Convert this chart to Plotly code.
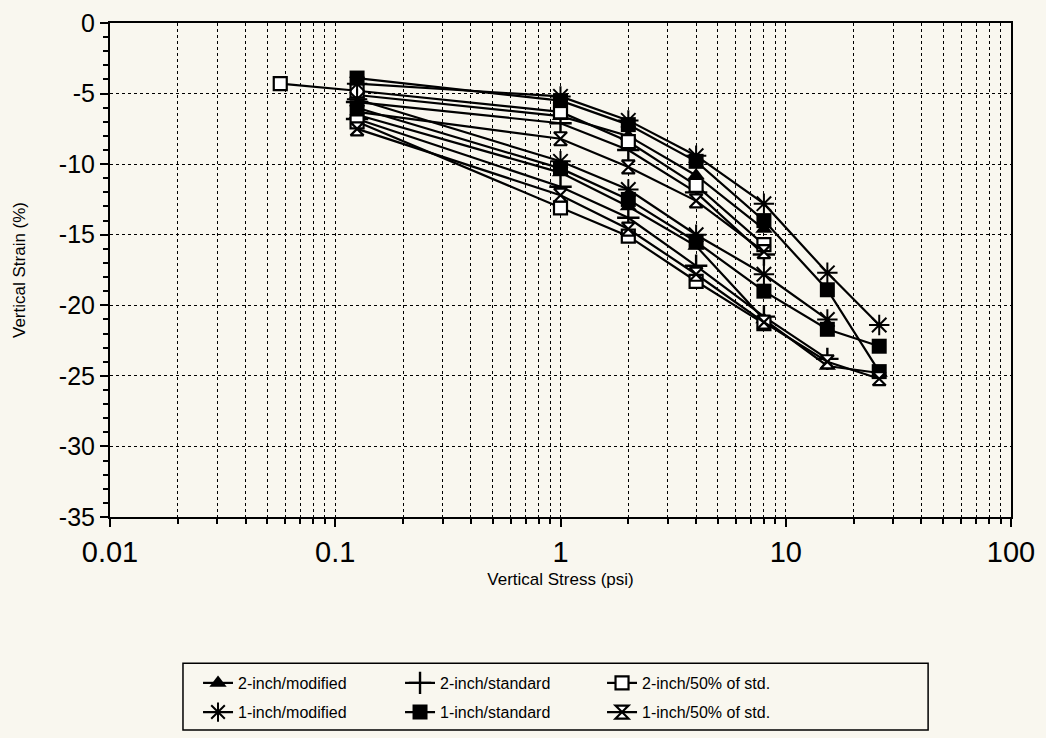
import plotly.graph_objects as go

# Applied vertical stress levels (psi)
stress = [0.125, 1, 2, 4, 8, 15.3, 26]
stress_50 = [0.057, 0.125, 1, 2, 4, 8]

# Test set 1 (upper curves), vertical strain (%)
set1 = {
    "2-inch/modified": (stress[:5], [-5.1, -6.6, -8.0, -10.8, -14.6]),
    "2-inch/standard": (stress[:5], [-5.6, -7.1, -9.0, -12.0, -16.4]),
    "2-inch/50% of std.": (stress_50, [-4.3, -4.8, -6.3, -8.4, -11.5, -15.7]),
    "1-inch/modified": (stress, [-4.3, -5.2, -6.9, -9.4, -12.8, -17.7, -21.4]),
    "1-inch/standard": (stress, [-3.9, -5.5, -7.2, -9.8, -14.0, -18.9, -24.7]),
    "1-inch/50% of std.": (stress[:5], [-6.3, -8.2, -10.2, -12.6, -16.2]),
}

# Test set 2 (lower curves), vertical strain (%)
set2 = {
    "2-inch/modified": (stress, [-6.5, -10.6, -13.0, -15.8, -21.0, -24.3, -24.8]),
    "2-inch/standard": (stress[:6], [-6.8, -11.6, -13.8, -17.2, -20.8, -23.8]),
    "2-inch/50% of std.": (stress[:5], [-7.0, -13.1, -15.1, -18.3, -21.3]),
    "1-inch/modified": (stress[:6], [-5.4, -9.8, -11.8, -15.0, -17.8, -21.0]),
    "1-inch/standard": (stress, [-6.0, -10.3, -12.5, -15.5, -19.0, -21.7, -22.9]),
    "1-inch/50% of std.": (stress, [-7.5, -12.2, -14.6, -17.8, -21.2, -24.0, -25.2]),
}

# Legend layout: 2-inch tests on the first row, 1-inch tests on the second
row_2inch = ["2-inch/modified", "2-inch/standard", "2-inch/50% of std."]
row_1inch = ["1-inch/modified", "1-inch/standard", "1-inch/50% of std."]

marker_style = {
    "2-inch/modified": dict(symbol="triangle-up", size=15, color="black"),
    "2-inch/standard": dict(symbol="cross-thin-open", size=16, color="black",
                            line=dict(width=2.4, color="black")),
    "2-inch/50% of std.": dict(symbol="square", size=13, color="white",
                               line=dict(width=2.2, color="black")),
    "1-inch/modified": dict(symbol="asterisk-open", size=17, color="black",
                            line=dict(width=2, color="black")),
    "1-inch/standard": dict(symbol="square", size=15, color="black"),
    "1-inch/50% of std.": dict(symbol="hourglass", size=13, color="white",
                               line=dict(width=2.2, color="black")),
}

x_major = [0.01, 0.1, 1, 10, 100]
x_major_text = ["0.01", "0.1", "1", "10", "100"]
x_minor = [m * 10 ** e for e in range(-2, 2) for m in range(2, 10)]
y_major = [0, -5, -10, -15, -20, -25, -30, -35]
y_major_text = ["0", "-5", "-10", "-15", "-20", "-25", "-30", "-35"]

bg = "rgb(249,247,239)"
font = "Liberation Sans, Arial, Helvetica, sans-serif"

fig = go.Figure()

for k, data in enumerate((set1, set2)):
    for row, legend_id in ((row_2inch, "legend"), (row_1inch, "legend2")):
        for name in row:
            xs, ys = data[name]
            fig.add_trace(go.Scatter(
                x=xs, y=ys, name=name, mode="lines+markers",
                legend=legend_id, showlegend=(k == 0),
                line=dict(color="black", width=2.2),
                marker=marker_style[name],
            ))

axis_common = dict(
    showline=True, linecolor="black", linewidth=2, mirror=True,
    ticks="outside", tickcolor="black", tickwidth=1.5,
    showgrid=True, gridcolor="black", gridwidth=1, griddash="dot",
    zeroline=False,
    title_font=dict(family=font, size=17, color="black"),
)

fig.update_xaxes(
    type="log", range=[-2, 2],
    tickmode="array", tickvals=x_major, ticktext=x_major_text, ticklen=8,
    tickfont=dict(family=font, size=29, color="black"),
    minor=dict(tickmode="array", tickvals=x_minor, ticks="outside", ticklen=5,
               tickcolor="black", showgrid=True, gridcolor="black",
               griddash="dot", gridwidth=1),
    title_text="Vertical Stress (psi)", title_standoff=6,
    **axis_common,
)
fig.update_yaxes(
    range=[-35, 0], tickmode="array", tickvals=y_major, ticktext=y_major_text,
    ticklen=8,
    tickfont=dict(family=font, size=25, color="black"),
    minor=dict(dtick=1, tick0=0, ticks="outside", ticklen=5, tickcolor="black",
               showgrid=False),
    title_text="Vertical Strain (%)", title_standoff=29,
    **axis_common,
)

legend_common = dict(
    orientation="h", x=0.0977, xanchor="left", yanchor="middle",
    entrywidth=157, entrywidthmode="pixels",
    bgcolor="rgba(0,0,0,0)", borderwidth=0,
    font=dict(family=font, size=16, color="black"),
    itemwidth=30,
)

fig.update_layout(
    width=1046, height=738,
    margin=dict(l=110, r=35, t=23, b=221, autoexpand=False),
    paper_bgcolor=bg, plot_bgcolor=bg,
    font=dict(family=font, color="black"),
    legend=dict(y=-0.336, **legend_common),
    legend2=dict(y=-0.395, **legend_common),
    shapes=[dict(type="rect", xref="paper", yref="paper",
                 x0=0.081, x1=0.908, y0=-0.431, y1=-0.296,
                 line=dict(color="black", width=1.5))],
)

fig.write_html("out.html")
